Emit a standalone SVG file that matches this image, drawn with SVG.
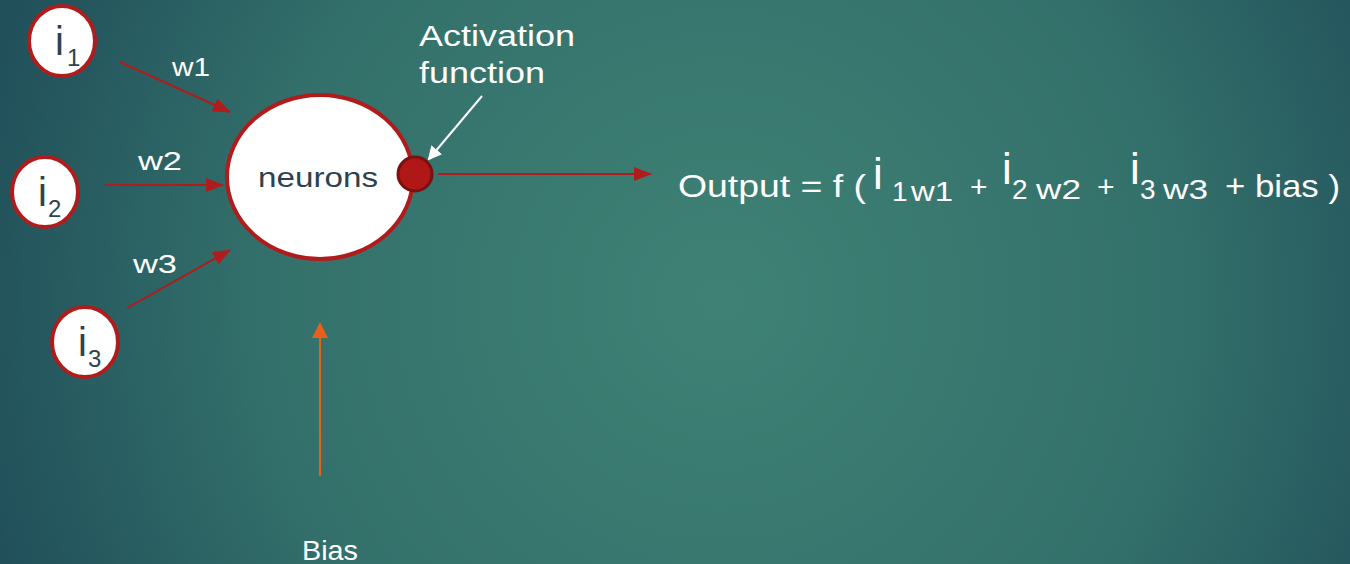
<svg xmlns="http://www.w3.org/2000/svg" width="1350" height="564" viewBox="0 0 1350 564">
<defs>
<radialGradient id="bg" cx="720" cy="300" r="760" gradientUnits="userSpaceOnUse">
<stop offset="0" stop-color="#3f8275"/>
<stop offset="0.6" stop-color="#33706b"/>
<stop offset="1" stop-color="#21505a"/>
</radialGradient>
<marker id="aw" markerWidth="14" markerHeight="14" refX="12" refY="7" orient="auto" markerUnits="userSpaceOnUse" viewBox="0 0 14 14">
<path d="M0,0 L14,7 L0,14 z" fill="#ffffff"/>
</marker>
<marker id="ao" markerWidth="16" markerHeight="16" refX="14" refY="8" orient="auto" markerUnits="userSpaceOnUse" viewBox="0 0 16 16">
<path d="M0,0 L16,8 L0,16 z" fill="#e8601c"/>
</marker>
<marker id="ar2" markerWidth="18" markerHeight="14" refX="17" refY="7" orient="auto" markerUnits="userSpaceOnUse" viewBox="0 0 18 14">
<path d="M0,0 L18,7 L0,14 z" fill="#b01c1c"/>
</marker>
</defs>
<style>
.in{fill:#ffffff;stroke:#b01c1c;stroke-width:4}
.dk{font-family:"Liberation Sans","DejaVu Sans",sans-serif;fill:#2b4350}
.wt{font-family:"Liberation Sans","DejaVu Sans",sans-serif;fill:#ffffff}
.rl{stroke:#b01c1c;stroke-width:2;fill:none}
</style>
<rect width="1350" height="564" fill="url(#bg)"/>
<g id="connectors">
<line class="rl" x1="120" y1="62" x2="230" y2="112" marker-end="url(#ar2)"/>
<line class="rl" x1="105" y1="185" x2="223" y2="185" marker-end="url(#ar2)"/>
<line class="rl" x1="127" y1="308" x2="230" y2="250" marker-end="url(#ar2)"/>
<line class="rl" x1="438" y1="174" x2="651" y2="174" marker-end="url(#ar2)"/>
<line x1="482" y1="96" x2="429" y2="159" stroke="#ffffff" stroke-width="2" marker-end="url(#aw)"/>
<line x1="320" y1="476" x2="320" y2="324" stroke="#e8601c" stroke-width="2" marker-end="url(#ao)"/>
</g>
<g id="labels">
<text class="wt" x="172" y="76" font-size="25" textLength="38" lengthAdjust="spacingAndGlyphs">w1</text>
<text class="wt" x="138" y="170" font-size="25" textLength="44" lengthAdjust="spacingAndGlyphs">w2</text>
<text class="wt" x="133" y="273" font-size="25" textLength="44" lengthAdjust="spacingAndGlyphs">w3</text>
<text class="wt" x="419" y="46" font-size="30" textLength="156" lengthAdjust="spacingAndGlyphs">Activation</text>
<text class="wt" x="419" y="83" font-size="30" textLength="126" lengthAdjust="spacingAndGlyphs">function</text>
<text class="wt" x="302" y="560" font-size="28" textLength="56" lengthAdjust="spacingAndGlyphs">Bias</text>
</g>
<g id="i1">
<ellipse class="in" cx="62" cy="41" rx="33" ry="35"/>
<text class="dk" x="55" y="55" font-size="40">i</text>
<text class="dk" x="67" y="66" font-size="24">1</text>
</g>
<g id="i2">
<ellipse class="in" cx="45" cy="192" rx="33" ry="35"/>
<text class="dk" x="38" y="206" font-size="40">i</text>
<text class="dk" x="48" y="217" font-size="24">2</text>
</g>
<g id="i3">
<ellipse class="in" cx="85" cy="342" rx="33" ry="35"/>
<text class="dk" x="78" y="356" font-size="40">i</text>
<text class="dk" x="88" y="367" font-size="24">3</text>
</g>
<g id="neuron">
<ellipse class="in" cx="320" cy="177" rx="93" ry="82"/>
<text class="dk" x="258" y="187" font-size="28" textLength="120" lengthAdjust="spacingAndGlyphs">neurons</text>
</g>
<g id="activation">
<circle cx="415" cy="174" r="17" fill="#b01818" stroke="#7a1010" stroke-width="3"/>
</g>
<g id="output">
<text class="wt" x="678" y="197" font-size="32" textLength="188" lengthAdjust="spacingAndGlyphs">Output = f (</text>
<text class="wt" x="873" y="189" font-size="44">i</text>
<text class="wt" x="892" y="201" font-size="28">1</text>
<text class="wt" x="911" y="201" font-size="28" textLength="42" lengthAdjust="spacingAndGlyphs">w1</text>
<text class="wt" x="970" y="197" font-size="30">+</text>
<text class="wt" x="1002" y="184" font-size="44">i</text>
<text class="wt" x="1012" y="199" font-size="28">2</text>
<text class="wt" x="1036" y="199" font-size="28" textLength="45" lengthAdjust="spacingAndGlyphs">w2</text>
<text class="wt" x="1097" y="197" font-size="30">+</text>
<text class="wt" x="1130" y="184" font-size="44">i</text>
<text class="wt" x="1140" y="199" font-size="28">3</text>
<text class="wt" x="1163" y="199" font-size="28" textLength="45" lengthAdjust="spacingAndGlyphs">w3</text>
<text class="wt" x="1225" y="197" font-size="32" textLength="115" lengthAdjust="spacingAndGlyphs">+ bias )</text>
</g>
</svg>
